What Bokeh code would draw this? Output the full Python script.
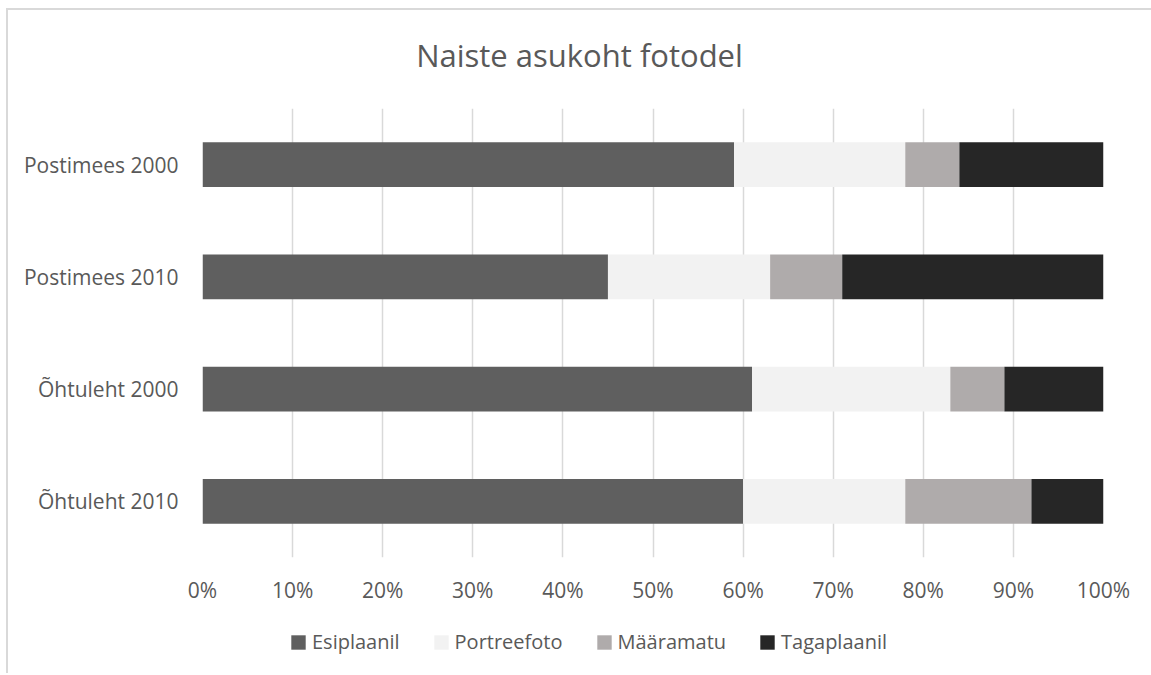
from bokeh.plotting import figure
from bokeh.layouts import column
from bokeh.models import FactorRange, Range1d, FixedTicker, Legend, LegendItem, Div
from bokeh.embed import file_html
from bokeh.resources import INLINE

title_text = "Naiste asukoht fotodel"
categories = ["Postimees 2000", "Postimees 2010", "Õhtuleht 2000", "Õhtuleht 2010"]
series_names = ["Esiplaanil", "Portreefoto", "Määramatu", "Tagaplaanil"]
esiplaanil = [59, 45, 61, 60]
portreefoto = [19, 18, 22, 18]
maaramatu = [6, 8, 6, 14]
tagaplaanil = [16, 29, 11, 8]
colors = ["#5f5f5f", "#f2f2f2", "#afabab", "#262626"]
x_ticks = [0, 10, 20, 30, 40, 50, 60, 70, 80, 90, 100]
x_tick_labels = [f"{t}%" for t in x_ticks]

FONT = "Open Sans"
TXT = "#595959"

data = {"cat": categories}
keys = ["s0", "s1", "s2", "s3"]
for k, vals in zip(keys, [esiplaanil, portreefoto, maaramatu, tagaplaanil]):
    data[k] = vals

# title
title_div = Div(
    text=(f'<div style="width:1143px;text-align:center;font-family:\'Open Sans\';'
          f'font-size:31px;color:{TXT};line-height:40px;padding-top:25px;'
          f'white-space:nowrap;">{title_text}</div>'),
    width=1143, height=80, margin=0)

# main chart
p = figure(width=1143, height=520, output_backend="svg", toolbar_location=None,
           y_range=FactorRange(factors=list(reversed(categories)), range_padding=0),
           x_range=Range1d(0, 100),
           min_border_left=194, min_border_top=18, min_border_right=48, min_border_bottom=53)
p.outline_line_color = None

p.hbar_stack(keys, y="cat", height=0.4, color=colors, source=data, line_color=None)

p.xaxis.ticker = FixedTicker(ticks=x_ticks)
p.xaxis.major_label_overrides = {t_: l for t_, l in zip(x_ticks, x_tick_labels)}
p.xgrid.ticker = FixedTicker(ticks=x_ticks)
p.xgrid.grid_line_color = "#d9d9d9"
p.xgrid.grid_line_width = 1.5
p.ygrid.grid_line_color = None

for ax in (p.xaxis[0], p.yaxis[0]):
    ax.axis_line_color = None
    ax.major_tick_line_color = None
    ax.minor_tick_line_color = None
    ax.major_tick_out = 0
    ax.major_tick_in = 0
    ax.major_label_text_font = FONT
    ax.major_label_text_font_size = "21px"
    ax.major_label_text_color = TXT
p.xaxis.major_label_standoff = 18
p.yaxis.major_label_standoff = 24

# legend strip: zero-height copies of the series only supply the legend swatches
p2 = figure(width=1143, height=63, output_backend="svg", toolbar_location=None,
            y_range=FactorRange(factors=list(reversed(categories))),
            x_range=Range1d(0, 100), x_axis_location=None, y_axis_location=None,
            min_border_left=194, min_border_right=48, min_border_top=0, min_border_bottom=0)
p2.outline_line_color = None
p2.xgrid.grid_line_color = None
p2.ygrid.grid_line_color = None
leg_renderers = p2.hbar_stack(keys, y="cat", height=0, color=colors,
                              source=data, line_color=None)

items = [LegendItem(label=n, renderers=[r]) for n, r in zip(series_names, leg_renderers)]
legend = Legend(items=items, orientation="horizontal", location=(87, 18),
                glyph_width=18, glyph_height=18, label_standoff=5, spacing=32,
                padding=0, margin=0, border_line_color=None, background_fill_alpha=0,
                label_text_font=FONT, label_text_font_size="20px", label_text_color=TXT)
p2.add_layout(legend, "center")

layout = column(title_div, p, p2, spacing=0)
layout.styles = {"border-left": "2px solid #d9d9d9", "border-top": "2px solid #d9d9d9",
                 "margin-left": "6px", "margin-top": "8px"}

open("out.html", "w").write(file_html(layout, INLINE))
